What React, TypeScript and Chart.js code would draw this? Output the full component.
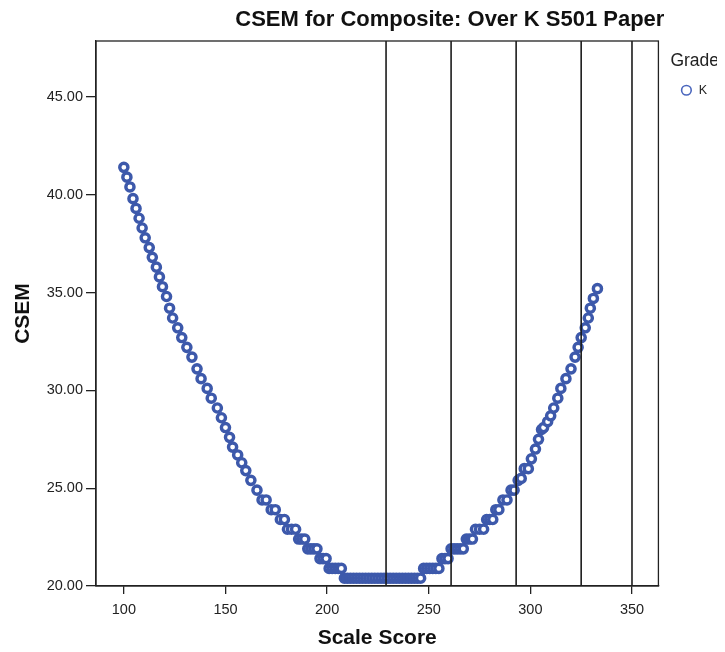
import { useEffect, useRef } from 'react';
import { Chart, registerables } from 'chart.js';

Chart.register(...registerables);

// ---- data ----
const scaleScores = [
  100, 101.5, 103, 104.5, 106, 107.5, 109, 110.5, 112.5, 114, 116, 117.5, 119, 121, 122.5, 124,
  126.5, 128.5, 131, 133.5, 136, 138, 141, 143, 146, 148, 150, 152, 153.5, 156, 158, 160,
  162.5, 165.5, 168, 170, 172.5, 174.5, 177, 179, 180.5, 182.5, 184.5, 186, 187.5, 189,
  190.5, 192, 193.5, 195, 196.5, 198, 199.5, 201, 202.5, 204, 205.5, 207,
  208.5, 210, 211.5, 213, 214.5, 216, 217.5, 219, 220.5, 222, 223.5, 225, 226.5, 228,
  229.5, 231, 232.5, 234, 235.5, 237, 238.5, 240, 241.5, 243, 244.5, 246,
  247.5, 249, 250.5, 252, 253.5, 255, 256.5, 258, 259.5, 261, 262.5, 264, 265.5, 267,
  268.5, 270, 271.5, 273, 275, 277, 278.5, 280, 281.5, 283, 284.5, 286.5, 288.5, 290.5,
  292, 294, 295.5, 297, 299, 300.5, 302.5, 304, 305.5, 306.5, 308.5, 310, 311.5, 313.5,
  315, 317.5, 320, 322, 323.5, 325, 327, 328.5, 329.5, 331, 333,
];
const csemValues = [
  41.4, 40.9, 40.4, 39.8, 39.3, 38.8, 38.3, 37.8, 37.3, 36.8, 36.3, 35.8, 35.3, 34.8, 34.2, 33.7,
  33.2, 32.7, 32.2, 31.7, 31.1, 30.6, 30.1, 29.6, 29.1, 28.6, 28.1, 27.6, 27.1, 26.7, 26.3, 25.9,
  25.4, 24.9, 24.4, 24.4, 23.9, 23.9, 23.4, 23.4, 22.9, 22.9, 22.9, 22.4, 22.4, 22.4,
  21.9, 21.9, 21.9, 21.9, 21.4, 21.4, 21.4, 20.9, 20.9, 20.9, 20.9, 20.9,
  20.4, 20.4, 20.4, 20.4, 20.4, 20.4, 20.4, 20.4, 20.4, 20.4, 20.4, 20.4, 20.4, 20.4,
  20.4, 20.4, 20.4, 20.4, 20.4, 20.4, 20.4, 20.4, 20.4, 20.4, 20.4, 20.4,
  20.9, 20.9, 20.9, 20.9, 20.9, 20.9, 21.4, 21.4, 21.4, 21.9, 21.9, 21.9, 21.9, 21.9,
  22.4, 22.4, 22.4, 22.9, 22.9, 22.9, 23.4, 23.4, 23.4, 23.9, 23.9, 24.4, 24.4, 24.9,
  24.9, 25.4, 25.5, 26.0, 26.0, 26.5, 27.0, 27.5, 28.0, 28.1, 28.4, 28.7, 29.1, 29.6,
  30.1, 30.6, 31.1, 31.7, 32.2, 32.7, 33.2, 33.7, 34.2, 34.7, 35.2,
];
const cutScores = [229, 261, 293, 325, 350];
const xTicks = [100, 150, 200, 250, 300, 350];
const yTicks = [20, 25, 30, 35, 40, 45];
const xRange = [86.3, 363];
const yRange = [20, 47.86];

const chartTitle = 'CSEM for Composite: Over K S501 Paper';
const xTitle = 'Scale Score';
const yTitle = 'CSEM';
const legendTitle = 'Grade';
const seriesLabel = 'K';

const FONT = "'Liberation Sans', Arial, sans-serif";
const BLUE = '#3d59ab';
const LEGEND_BLUE = '#4a66bd';
const INK = '#222';

export default function App() {
  const ref = useRef<HTMLCanvasElement>(null);

  useEffect(() => {
    const canvas = ref.current;
    if (!canvas) return;
    const points = scaleScores.map((x, i) => ({ x, y: csemValues[i] }));
    const lineSets = cutScores.map((c) => ({
      label: 'cut ' + c,
      data: [
        { x: c, y: yRange[0] },
        { x: c, y: yRange[1] },
      ],
      showLine: true,
      borderColor: '#1c1c1c',
      borderWidth: 1.6,
      pointRadius: 0,
      fill: false,
      order: 0,
    }));

    const framePlugin = {
      id: 'frame',
      afterLayout(chart: any) {
        const t = chart.titleBlock;
        if (t) {
          t.left += 6;
          t.right += 6;
        }
      },
      afterDatasetsDraw(chart: any) {
        const { ctx, chartArea: a } = chart;
        ctx.save();
        ctx.strokeStyle = INK;
        ctx.lineWidth = 1.3;
        ctx.strokeRect(a.left, a.top, a.right - a.left, a.bottom - a.top);
        ctx.restore();
      },
    };

    const chart = new Chart(canvas, {
      type: 'scatter',
      data: {
        datasets: [
          {
            label: seriesLabel,
            data: points,
            pointRadius: 4.1,
            pointBorderWidth: 3.4,
            pointBackgroundColor: '#ffffff',
            pointBorderColor: BLUE,
            order: 1,
          } as any,
          ...(lineSets as any[]),
        ],
      },
      options: {
        animation: false,
        responsive: true,
        maintainAspectRatio: false,
        layout: { padding: { right: 8 } },
        events: [],
        plugins: {
          title: {
            display: true,
            text: chartTitle,
            fullSize: false,
            align: 'end',
            color: '#111',
            font: { family: FONT, size: 22, weight: 'bold' },
            padding: { top: 7, bottom: 7.6 },
          },
          legend: {
            position: 'right',
            align: 'start',
            title: {
              display: true,
              text: legendTitle,
              position: 'start',
              color: INK,
              font: { family: FONT, size: 17.5 },
              padding: { top: 52, bottom: 1 },
            },
            labels: {
              usePointStyle: true,
              boxWidth: 12,
              boxHeight: 6.8,
              padding: 10,
              color: INK,
              font: { family: FONT, size: 12.5 },
              generateLabels: () => [
                {
                  text: seriesLabel,
                  fillStyle: '#ffffff',
                  strokeStyle: LEGEND_BLUE,
                  lineWidth: 1.6,
                  pointStyle: 'circle',
                  hidden: false,
                  datasetIndex: 0,
                } as any,
              ],
            },
          },
          tooltip: { enabled: false },
        },
        scales: {
          x: {
            type: 'linear',
            min: xRange[0],
            max: xRange[1],
            afterBuildTicks: (s: any) => {
              s.ticks = xTicks.map((v) => ({ value: v }));
            },
            afterFit: (s: any) => {
              s.height = 66;
            },
            ticks: {
              color: INK,
              font: { family: FONT, size: 14.5 },
              padding: 7,
              maxRotation: 0,
              callback: (v: any) => String(v),
            },
            grid: { drawOnChartArea: false, drawTicks: true, tickLength: 8, color: INK, lineWidth: 1.3 },
            border: { display: true, color: INK, width: 1.3 },
            title: {
              display: true,
              text: xTitle,
              color: '#111',
              font: { family: FONT, size: 21, weight: 'bold' },
              padding: { top: 4, bottom: 1.4 },
            },
          },
          y: {
            type: 'linear',
            min: yRange[0],
            max: yRange[1],
            afterBuildTicks: (s: any) => {
              s.ticks = yTicks.map((v) => ({ value: v }));
            },
            afterFit: (s: any) => {
              s.width = 96;
            },
            ticks: {
              color: INK,
              font: { family: FONT, size: 14.5 },
              padding: 3,
              callback: (v: any) => Number(v).toFixed(2),
            },
            grid: { drawOnChartArea: false, drawTicks: true, tickLength: 10, color: INK, lineWidth: 1.3 },
            border: { display: true, color: INK, width: 1.3 },
            title: {
              display: true,
              text: yTitle,
              color: '#111',
              font: { family: FONT, size: 21, weight: 'bold' },
              padding: { top: 11, bottom: 4 },
            },
          },
          y2: {
            type: 'linear',
            position: 'right',
            display: true,
            ticks: { display: false },
            grid: { display: false },
            border: { display: false },
            afterFit: (s: any) => {
              s.width = 12;
            },
          },
        },
      },
      plugins: [framePlugin],
    });
    return () => chart.destroy();
  }, []);

  return (
    <div style={{ position: 'fixed', left: 0, top: 0, width: '725px', height: '652px', background: '#fff' }}>
      <canvas ref={ref} />
    </div>
  );
}
